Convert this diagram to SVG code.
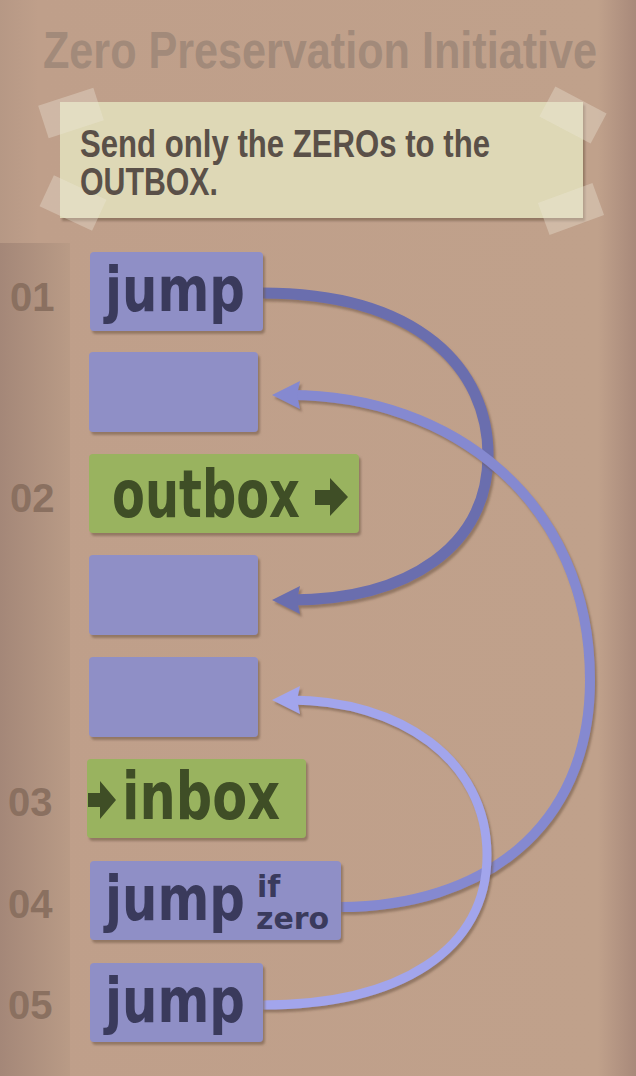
<svg xmlns="http://www.w3.org/2000/svg" width="636" height="1076" viewBox="0 0 636 1076">
<defs>
<linearGradient id="bg" x1="0" y1="0" x2="1" y2="0">
<stop offset="0" stop-color="#b69885"/><stop offset="0.06" stop-color="#bf9f8a"/><stop offset="0.94" stop-color="#c0a18b"/><stop offset="1" stop-color="#a8897a"/>
</linearGradient>
<linearGradient id="strip" x1="0" y1="0" x2="1" y2="0">
<stop offset="0" stop-color="#a48778"/><stop offset="1" stop-color="#b99b86"/>
</linearGradient>
<filter id="sh" x="-10%" y="-10%" width="130%" height="130%">
<feDropShadow dx="2" dy="3" stdDeviation="1" flood-color="#6e5444" flood-opacity="0.55"/>
</filter>
<marker id="ahA" viewBox="0 0 30 30" refX="12" refY="15" markerWidth="30" markerHeight="30" markerUnits="userSpaceOnUse" orient="auto">
<path d="M30,15 L2,1 L5,15 L2,29 Z" fill="#6b6eae"/>
</marker>
<marker id="ahB" viewBox="0 0 30 30" refX="12" refY="15" markerWidth="30" markerHeight="30" markerUnits="userSpaceOnUse" orient="auto">
<path d="M30,15 L2,1 L5,15 L2,29 Z" fill="#8589d0"/>
</marker>
<marker id="ahC" viewBox="0 0 30 30" refX="12" refY="15" markerWidth="30" markerHeight="30" markerUnits="userSpaceOnUse" orient="auto">
<path d="M30,15 L2,1 L5,15 L2,29 Z" fill="#a2a5ec"/>
</marker>
</defs>
<style>
.blue{fill:#8f8fc6;filter:url(#sh)}
.green{fill:#99b35e;filter:url(#sh)}
.bt{font-family:"DejaVu Sans",sans-serif;font-weight:bold;fill:#3a3a5c}
.gt{font-family:"DejaVu Sans",sans-serif;font-weight:bold;fill:#3f4e26}
.num{font-family:"Liberation Sans",sans-serif;font-weight:bold;font-size:40px;fill:#8a7060}
.cond{font-family:"Liberation Sans",sans-serif;font-weight:bold}
.tape{fill:#efe9da;opacity:0.35}
.conn{fill:none;filter:url(#sh)}
</style>
<rect x="0" y="0" width="636" height="1076" fill="url(#bg)"/>
<rect x="0" y="243" width="70" height="833" fill="url(#strip)"/>
<g id="title">
<text class="cond" font-size="42" fill="#a28a7a" transform="translate(43,68) scale(1,1.22)" textLength="554" lengthAdjust="spacingAndGlyphs">Zero Preservation Initiative</text>
</g>
<g id="note">
<rect x="60" y="102" width="523" height="116" fill="#ded8b6" filter="url(#sh)"/>
<rect class="tape" x="42" y="96" width="58" height="34" transform="rotate(-18 71 113)"/>
<rect class="tape" x="44" y="186" width="58" height="34" transform="rotate(25 73 203)"/>
<rect class="tape" x="544" y="98" width="58" height="34" transform="rotate(28 573 115)"/>
<rect class="tape" x="542" y="192" width="58" height="34" transform="rotate(-20 571 209)"/>
<text class="cond" x="80" y="157" font-size="38" fill="#5a5048" textLength="410" lengthAdjust="spacingAndGlyphs">Send only the ZEROs to the</text>
<text class="cond" x="80" y="195" font-size="38" fill="#5a5048" textLength="138" lengthAdjust="spacingAndGlyphs">OUTBOX.</text>
</g>
<g id="labels">
<text class="num" x="10" y="311">01</text>
<text class="num" x="10" y="512">02</text>
<text class="num" x="8" y="816">03</text>
<text class="num" x="8" y="918">04</text>
<text class="num" x="8" y="1019">05</text>
</g>
<g id="connectors">
<path class="conn" d="M262,293 C420,293 488,370 488,455 C488,545 410,600 290,600" stroke="#6b6eae" stroke-width="11" marker-end="url(#ahA)"/>
<path class="conn" d="M340,907 C480,907 590,830 590,680 C590,500 450,395 290,395" stroke="#8589d0" stroke-width="10" marker-end="url(#ahB)"/>
<path class="conn" d="M262,1005 C400,1005 487,950 487,855 C487,760 400,700 290,700" stroke="#a2a5ec" stroke-width="9" marker-end="url(#ahC)"/>
</g>
<g id="n1">
<rect class="blue" x="90" y="252" width="173" height="79" rx="4"/>
<text class="bt" font-size="50" transform="translate(105,311) scale(1,1.24)" textLength="140" lengthAdjust="spacingAndGlyphs">jump</text>
</g>
<g id="n2">
<rect class="blue" x="89" y="352" width="169" height="80" rx="4"/>
</g>
<g id="n3">
<rect class="green" x="89" y="454" width="270" height="79" rx="4"/>
<text class="gt" font-size="48" transform="translate(112,517) scale(1,1.375)" textLength="188" lengthAdjust="spacingAndGlyphs">outbox</text>
<path d="M315,490 L330,490 L330,478 L348,497 L330,516 L330,505 L315,505 Z" fill="#3f4e26"/>
</g>
<g id="n4">
<rect class="blue" x="89" y="555" width="169" height="80" rx="4"/>
</g>
<g id="n5">
<rect class="blue" x="89" y="657" width="169" height="80" rx="4"/>
</g>
<g id="n6">
<rect class="green" x="87" y="759" width="219" height="79" rx="4"/>
<path d="M88,793 L100,793 L100,781 L116,800 L100,819 L100,807 L88,807 Z" fill="#3f4e26"/>
<text class="gt" font-size="50.6" transform="translate(122,819) scale(1,1.3)" textLength="158" lengthAdjust="spacingAndGlyphs">inbox</text>
</g>
<g id="n7">
<rect class="blue" x="90" y="861" width="251" height="79" rx="4"/>
<text class="bt" font-size="50" transform="translate(105,920) scale(1,1.24)" textLength="140" lengthAdjust="spacingAndGlyphs">jump</text>
<text class="bt" font-size="30"><tspan x="257" y="897">if</tspan><tspan x="256" y="929">zero</tspan></text>
</g>
<g id="n8">
<rect class="blue" x="90" y="963" width="173" height="79" rx="4"/>
<text class="bt" font-size="50" transform="translate(105,1022) scale(1,1.24)" textLength="140" lengthAdjust="spacingAndGlyphs">jump</text>
</g>
</svg>
